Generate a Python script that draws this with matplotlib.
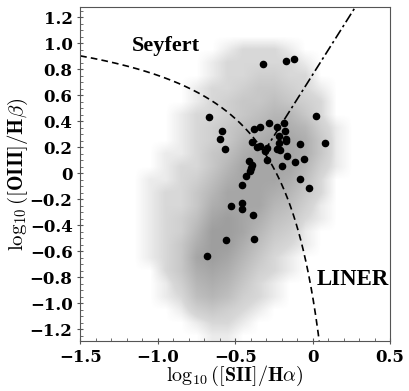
import numpy as np
import matplotlib.pyplot as plt
from matplotlib.ticker import MultipleLocator, FuncFormatter
from matplotlib.colors import LinearSegmentedColormap

plt.rcParams['mathtext.fontset'] = 'cm'

# black points: log([SII]/Ha), log([OIII]/Hb)
sii_ha = [-0.321, -0.173, -0.121, -0.670, -0.584, -0.599, -0.564, -0.377, -0.339, -0.279,
          -0.229, -0.182, -0.180, 0.023, -0.390, -0.356, -0.339, -0.309, -0.292, -0.218,
          -0.218, -0.171, -0.169, -0.229, -0.208, -0.083, -0.167, -0.059, -0.117, -0.292,
          -0.195, -0.414, -0.390, -0.397, -0.403, -0.431, -0.455, -0.085, -0.025, -0.524,
          -0.457, -0.455, -0.382, -0.558, -0.379, -0.683, 0.081]
oiii_hb = [0.844, 0.864, 0.880, 0.434, 0.323, 0.263, 0.190, 0.341, 0.358, 0.389,
           0.353, 0.386, 0.326, 0.444, 0.238, 0.202, 0.210, 0.172, 0.198, 0.285,
           0.230, 0.268, 0.248, 0.185, 0.183, 0.225, 0.134, 0.109, 0.084, 0.100,
           0.059, 0.097, 0.062, 0.039, 0.021, -0.024, -0.089, -0.044, -0.112, -0.250,
           -0.230, -0.275, -0.323, -0.512, -0.504, -0.633, 0.230]

# background galaxy cloud: density level on a 0.1 x 0.1 grid
# columns x = -1.15 ... 0.25, rows y = 1.05 (top) ... -1.25
cloud_x_range = [-1.2, 0.3]
cloud_y_range = [-1.3, 1.1]
cloud = [
    [0, 0, 0, 0, 0, 0, 0, 0, 0, 0, 0, 0, 0, 0, 0],
    [0, 0, 0, 0, 0, 0, 0.5, 1, 1, 1, 0.5, 0, 0, 0, 0],
    [0, 0, 0, 0, 0, 0.5, 1, 1, 1, 1, 1, 0.5, 0, 0, 0],
    [0, 0, 0, 0, 0, 0.5, 1, 1, 1.5, 1.5, 1, 1, 0, 0, 0],
    [0, 0, 0, 0, 0.5, 1, 1, 1.5, 2, 2, 1.5, 1, 0.5, 0, 0],
    [0, 0, 0, 0, 0.5, 1, 1.5, 2, 2, 2.5, 2, 1.5, 1, 0, 0],
    [0, 0, 0, 0.5, 1, 1, 1.5, 2, 2.5, 3, 3, 2, 1, 0, 0],
    [0, 0, 0, 0.5, 1, 1.5, 2, 2.5, 3, 3.5, 3.5, 3, 1.5, 0.5, 0],
    [0, 0, 0, 0.5, 1, 1.5, 2, 3, 3.5, 4, 4, 3.5, 2, 0.5, 0],
    [0, 0, 0.5, 0.5, 1, 2, 2.5, 3.5, 4, 4, 4, 3.5, 2, 0.5, 0],
    [0, 0, 0.5, 1, 1, 2, 3, 4, 4, 4, 4, 3, 1.5, 0.5, 0],
    [0, 0.5, 0.5, 1, 1.5, 2.5, 3.5, 4, 4, 4, 3.5, 2.5, 1, 0, 0],
    [0, 0.5, 1, 1, 2, 3, 4, 4, 4, 3.5, 3, 2, 1, 0, 0],
    [0, 0.5, 1, 1, 2, 3.5, 4, 4, 4, 3, 2.5, 1.5, 0.5, 0, 0],
    [0, 0.5, 1, 1.5, 2.5, 4, 4.5, 4, 3.5, 2.5, 2, 1, 0.5, 0, 0],
    [0, 0.5, 1, 1.5, 3, 4.5, 4.5, 4, 3, 2, 1.5, 0.5, 0, 0, 0],
    [0, 0.5, 1, 2, 3.5, 4.5, 4.5, 3.5, 2.5, 1.5, 1, 0.5, 0, 0, 0],
    [0, 0.5, 1, 2, 4, 4.5, 4, 3, 2, 1, 0.5, 0, 0, 0, 0],
    [0, 0, 1, 2, 3.5, 4, 3.5, 2.5, 1.5, 1, 0.5, 0, 0, 0, 0],
    [0, 0, 0.5, 1.5, 3, 3.5, 3, 2, 1, 0.5, 0, 0, 0, 0, 0],
    [0, 0, 0.5, 1, 2.5, 3, 2.5, 1.5, 1, 0.5, 0, 0, 0, 0, 0],
    [0, 0, 0, 0.5, 1.5, 2, 1.5, 1, 0.5, 0, 0, 0, 0, 0, 0],
    [0, 0, 0, 0, 0.5, 1, 1, 0.5, 0, 0, 0, 0, 0, 0, 0],
    [0, 0, 0, 0, 0, 0.5, 0.5, 0, 0, 0, 0, 0, 0, 0, 0],
]

# Kewley et al. demarcation lines
kew01 = (0.72, 0.32, 1.30)   # y = a/(x-b)+c
kew06 = (1.89, 0.76)         # y = m*x+q

fig = plt.figure(figsize=(4.09, 3.91), dpi=100)
ax = fig.add_axes([0.196, 0.128, 0.758, 0.854])

cmap = LinearSegmentedColormap.from_list(
    'g', [(0, '#ffffff'), (0.22, '#d8d8d8'), (1, '#9e9e9e')])
ax.imshow(np.array(cloud, dtype=float), cmap=cmap, vmin=0, vmax=4.5,
          extent=[cloud_x_range[0], cloud_x_range[1], cloud_y_range[0], cloud_y_range[1]],
          interpolation='bilinear', aspect='auto', zorder=0)

a, b, c = kew01
xs = np.linspace(-1.5, 0.1, 400)
ys = a / (xs - b) + c
ax.plot(xs[ys > -1.4], ys[ys > -1.4], 'k--', lw=1.2, dashes=(4, 2.5))

m, q = kew06
xi = np.roots([m, q - m * b - c, -q * b + c * b - a])
xi = xi[xi < b].max()
xl = np.linspace(xi, 0.5, 50)
ax.plot(xl, m * xl + q, 'k', lw=1.2, dashes=(6, 2, 1.5, 2))

ax.scatter(sii_ha, oiii_hb, s=20, c='black', zorder=3)

ax.text(-0.95, 0.98, 'Seyfert', family='Liberation Serif', weight='bold',
        fontsize=16, ha='center', va='center')
ax.text(0.26, -0.82, 'LINER', family='Liberation Serif', weight='bold',
        fontsize=16.5, ha='center', va='center')

ax.set_xlim(-1.5, 0.5)
ax.set_ylim(-1.29, 1.28)
ax.xaxis.set_major_locator(MultipleLocator(0.5))
ax.xaxis.set_minor_locator(MultipleLocator(0.1))
ax.yaxis.set_major_locator(MultipleLocator(0.2))
ax.yaxis.set_minor_locator(MultipleLocator(0.05))

def fmt_tick(v, pos):
    s = '0' if abs(v) < 1e-9 else '%.1f' % v
    return s.replace('-', '\u2212')

ax.xaxis.set_major_formatter(FuncFormatter(fmt_tick))
ax.yaxis.set_major_formatter(FuncFormatter(fmt_tick))
ax.tick_params(which='both', labelsize=12, color='#555555')
ax.tick_params(which='major', direction='inout', length=4)
ax.tick_params(which='minor', direction='in', length=2)
for lab in ax.get_xticklabels() + ax.get_yticklabels():
    lab.set_family('DejaVu Serif')
    lab.set_weight('bold')
for sp in ax.spines.values():
    sp.set_color('#555555')

ax.set_xlabel(r'$\log_{\mathbf{10}}(\mathbf{[SII]/H}\alpha)$', fontsize=14.5, va='center')
ax.xaxis.set_label_coords(0.5, -0.105)
ax.set_ylabel(r'$\log_{\mathbf{10}}(\mathbf{[OIII]/H}\beta)$', fontsize=15, labelpad=0)

fig.savefig('out.png', dpi=100)
